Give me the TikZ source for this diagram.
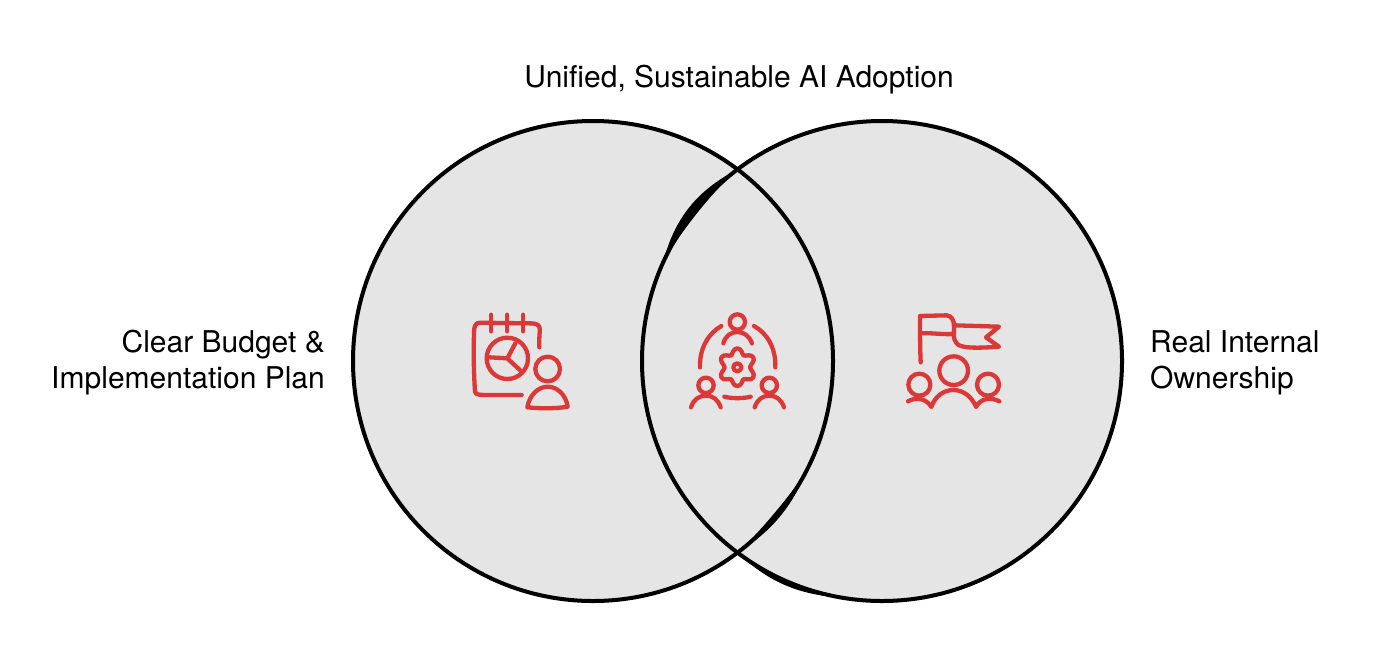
\documentclass[tikz,border=0pt]{standalone}
\usepackage{fontspec}
\setmainfont{TeX Gyre Heros}
\definecolor{iconred}{HTML}{DC3838}
\definecolor{venngray}{HTML}{E5E5E5}
\tikzset{
  x=1pt,y=-1pt,
  venn/.style={draw=black,line width=4pt},
  ic/.style={draw=iconred,line width=4.3pt,line cap=round,line join=round},
  lbl/.style={font=\fontsize{30pt}{36pt}\selectfont,text=black,inner sep=0pt},
  zoomed/.style={x=0.3333pt,y=-0.3333pt}
}
\begin{document}
\begin{tikzpicture}
\useasboundingbox (0,0) rectangle (1380,670);
\fill[white] (0,0) rectangle (1380,670);
\coordinate (cl) at (593,361);
\coordinate (cr) at (882,361);
\fill[venngray] (cl) circle[radius=240pt];
\fill[venngray] (cr) circle[radius=240pt];
\draw[venn] (cl) circle[radius=240pt];
\draw[venn] (cr) circle[radius=240pt];
% thickened slivers: circle arcs with a varying radius
\fill[black] plot[domain=204:233,samples=40] ({882+(240+6.5*sin(180*(\x-204)/29))*cos(\x)},{361+(240+6.5*sin(180*(\x-204)/29))*sin(\x)})
  -- plot[domain=233:204,samples=40] ({882+(240-3.2*sin(180*(\x-204)/29))*cos(\x)},{361+(240-3.2*sin(180*(\x-204)/29))*sin(\x)}) -- cycle;
\fill[black] plot[domain=27:53,samples=30] ({593+(240+3.2*sin(180*(\x-27)/26))*cos(\x)},{361+(240+3.2*sin(180*(\x-27)/26))*sin(\x)})
  -- plot[domain=53:27,samples=30] ({593+(240-3.2*sin(180*(\x-27)/26))*cos(\x)},{361+(240-3.2*sin(180*(\x-27)/26))*sin(\x)}) -- cycle;
\fill[black] plot[domain=100:127,samples=30] ({882+(240+4.2*sin(180*(\x-100)/27))*cos(\x)},{361+(240+4.2*sin(180*(\x-100)/27))*sin(\x)})
  -- plot[domain=127:100,samples=30] ({882+240*cos(\x)},{361+240*sin(\x)}) -- cycle;
\node[lbl,anchor=base] (top) at (739,87) {Unified, Sustainable AI Adoption};
\node[lbl,anchor=base east,align=right] (left1) at (325,352) {Clear Budget \&};
\node[lbl,anchor=base east,align=right] (left2) at (325,388) {Implementation Plan};
\node[lbl,anchor=base west] (right1) at (1150,352) {Real Internal};
\node[lbl,anchor=base west] (right2) at (1150,388) {Ownership};
% calendar icon
\begin{scope}[shift={(460,300)},zoomed]
\draw[ic] (238,142) .. controls (236,110) and (242,90) .. (238,80) .. controls (232,70) and (222,70) .. (200,70) -- (60,68) .. controls (45,68) and (42,80) .. (42,100) .. controls (40,170) and (42,230) .. (45,275) .. controls (46,285) and (60,285) .. (90,285) -- (185,285);
\draw[ic] (94,44) -- (94,94);
\draw[ic] (142,44) -- (142,94);
\draw[ic] (190,44) -- (190,94);
\draw[ic] (142,175) circle[radius=62];
\draw[ic] (88,172) -- (142,175) -- (166,130);
\draw[ic] (142,175) -- (184,214);
\draw[ic] (263,207) circle[radius=37];
\draw[ic] (202,322) .. controls (208,285) and (235,260) .. (263,260) .. controls (292,260) and (318,285) .. (323,320) .. controls (290,326) and (240,326) .. (202,322) -- cycle;
\end{scope}
% centre icon
\begin{scope}[shift={(680,300)},zoomed]
\draw[ic] (172,66) circle[radius=23];
\draw[ic] (130,130) .. controls (136,108) and (152,96) .. (172,96) .. controls (192,96) and (208,108) .. (216,130);
\draw[ic] (60,202) .. controls (58,145) and (85,100) .. (124,78);
\draw[ic] (222,78) .. controls (262,100) and (288,145) .. (286,202);
\draw[ic] (78,256) circle[radius=23];
\draw[ic] (33,322) .. controls (40,298) and (58,287) .. (78,287) .. controls (98,287) and (114,298) .. (122,322);
\draw[ic] (268,256) circle[radius=23];
\draw[ic] (224,322) .. controls (232,298) and (248,287) .. (268,287) .. controls (288,287) and (304,298) .. (312,322);
\draw[ic] (133,290) .. controls (155,296) and (190,296) .. (212,290);
\draw[ic] (172,202) circle[radius=12];
\draw[ic] (172,145) .. controls (184,145) and (186,160) .. (190,166) .. controls (198,170) and (212,160) .. (220,172) .. controls (226,184) and (212,192) .. (210,202) .. controls (212,212) and (226,220) .. (220,232) .. controls (212,244) and (198,234) .. (190,238) .. controls (186,244) and (184,258) .. (172,258) .. controls (160,258) and (158,244) .. (154,238) .. controls (146,234) and (132,244) .. (124,232) .. controls (118,220) and (132,212) .. (134,202) .. controls (132,192) and (118,184) .. (124,172) .. controls (132,160) and (146,170) .. (154,166) .. controls (158,160) and (160,145) .. (172,145) -- cycle;
\end{scope}
% flag icon
\begin{scope}[shift={(900,300)},zoomed]
\draw[ic] (62,187) .. controls (60,140) and (60,90) .. (60,48) -- (140,46) .. controls (155,48) and (162,60) .. (162,80) .. controls (162,105) and (158,115) .. (170,130) .. controls (180,145) and (230,145) .. (297,140) -- (258,112) -- (297,80) -- (165,76);
\draw[ic] (62,100) .. controls (95,98) and (125,104) .. (160,102);
\draw[ic] (161,212) circle[radius=43];
\draw[ic] (58,254) circle[radius=33];
\draw[ic] (264,254) circle[radius=33];
\draw[ic] (94,320) .. controls (105,290) and (130,270) .. (160,270) .. controls (190,270) and (215,290) .. (228,320);
\draw[ic] (24,304) .. controls (45,292) and (75,292) .. (94,320);
\draw[ic] (228,320) .. controls (245,292) and (275,292) .. (298,304);
\end{scope}
\end{tikzpicture}
\end{document}
